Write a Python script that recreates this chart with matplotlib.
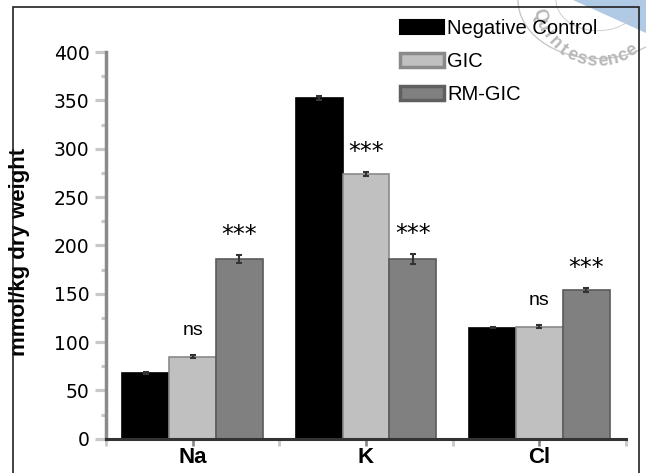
import matplotlib
matplotlib.use('Agg')
import matplotlib.pyplot as plt
import numpy as np
from matplotlib.patches import Rectangle, Polygon, Patch, Circle

# ---------------- data ----------------
ions = ['Na', 'K', 'Cl']
series = ['Negative Control', 'GIC', 'RM-GIC']
neg_control = [68, 352, 115]
gic = [85, 274, 116]
rm_gic = [186, 186, 154]
neg_control_err = [1, 2, 1]
gic_err = [2, 2, 2]
rm_gic_err = [4, 5, 2]
gic_sig = ['ns', '***', 'ns']
rm_gic_sig = ['***', '***', '***']
yticks = [0, 50, 100, 150, 200, 250, 300, 350, 400]

# ---------------- style ----------------
W, H = 646, 473
plt.rcParams['font.family'] = ['Liberation Sans', 'DejaVu Sans']
fig = plt.figure(figsize=(W / 100, H / 100), dpi=100)
fig.patch.set_facecolor('white')

x0, x1, y0, y1 = 106, 626, 438.7, 52
ax = fig.add_axes([x0 / W, 1 - y0 / H, (x1 - x0) / W, (y0 - y1) / H])

fills = ['#000000', '#c0c0c0', '#808080']
edges = ['#000000', '#8a8a8a', '#5a5a5a']
values = [neg_control, gic, rm_gic]
errs = [neg_control_err, gic_err, rm_gic_err]
bw = 0.27
x = np.arange(len(ions))
for i, (vals, err) in enumerate(zip(values, errs)):
    ax.bar(x + (i - 1) * bw, vals, width=bw, color=fills[i], edgecolor=edges[i],
           linewidth=1.2, yerr=err, capsize=2,
           error_kw=dict(ecolor='#333333', elinewidth=1.5, capthick=1.5), zorder=3)

def annotate(vals, err, sigs, idx):
    for xi, v, e, s in zip(x, vals, err, sigs):
        if s == 'ns':
            ax.annotate(s, (xi + (idx - 1) * bw, v + e), xytext=(0, 11),
                        textcoords='offset points', ha='center', va='bottom',
                        fontsize=14, family=['Liberation Sans'])
        else:
            ax.annotate(s, (xi + (idx - 1) * bw, v + e), xytext=(0, 6),
                        textcoords='offset points', ha='center', va='bottom',
                        fontsize=17, family=['DejaVu Sans'])

annotate(gic, gic_err, gic_sig, 1)
annotate(rm_gic, rm_gic_err, rm_gic_sig, 2)

ax.set_xlim(-0.5, 2.5)
ax.set_ylim(0, 400)
ax.set_yticks(yticks)
ax.set_yticklabels([str(v) for v in yticks], family=['DejaVu Sans'], fontsize=13.5)
ax.set_yticks(np.arange(25, 400, 50), minor=True)
ax.set_xticks(x)
ax.set_xticklabels(ions, fontweight='bold', fontsize=16)
ax.set_xticks([-0.5, 0.5, 1.5, 2.5], minor=True)
ax.tick_params(axis='y', which='major', length=8, width=2.3, color='#c8c8c8', pad=4)
ax.tick_params(axis='y', which='minor', length=3.5, width=2.3, color='#c8c8c8')
ax.tick_params(axis='x', which='major', length=5, width=2, color='#8c8c8c', pad=1)
ax.tick_params(axis='x', which='minor', length=5, width=2, color='#c8c8c8')

for s in ['top', 'right']:
    ax.spines[s].set_visible(False)
ax.spines['left'].set_color('#8a8a8a')
ax.spines['left'].set_linewidth(2.5)
ax.spines['bottom'].set_color('#333333')
ax.spines['bottom'].set_linewidth(2.2)
ax.spines['bottom'].set_zorder(4)

ax.set_ylabel('mmol/kg dry weight', fontweight='bold', fontsize=16)
ax.yaxis.set_label_coords((30 - x0) / (x1 - x0), (y0 - 252) / (y0 - y1))

# legend
handles = [Patch(facecolor=fills[0], edgecolor='#000000', linewidth=1.5),
           Patch(facecolor=fills[1], edgecolor='#8a8a8a', linewidth=2.5),
           Patch(facecolor=fills[2], edgecolor='#606060', linewidth=2.5)]
fig.legend(handles, series, loc='upper left', bbox_to_anchor=(400 / W, 1 - 19.5 / H),
           frameon=False, fontsize=14.5, handlelength=2.2, handleheight=0.7,
           handletextpad=0.15, labelspacing=0.68, borderpad=0, borderaxespad=0)

# outer frame
fig.patches.append(Rectangle((13 / W, -0.1), (639 - 13) / W, 1.1 - 7 / H,
                             transform=fig.transFigure, fill=False,
                             edgecolor='#222222', linewidth=1.2, zorder=10))

# watermark stamp (decoration)
def fp(px, py):
    return (px / W, 1 - py / H)

band = Polygon([fp(573, 0), fp(646, 0), fp(646, 33)], closed=True,
               transform=fig.transFigure, facecolor='#a8c3e2', edgecolor='none',
               alpha=0.9, zorder=0)
fig.patches.append(band)
cx, cy = 598, 0
for r, lw in [(42, 0.6), (80, 1.0)]:
    fig.patches.append(Circle(fp(cx, cy), r / W, transform=fig.transFigure, fill=False,
                              edgecolor='#c8c8c8', linewidth=lw, zorder=0))
word = 'Quintessence'
thetas = np.linspace(165, 56, len(word))
for ch, th in zip(word, thetas):
    t = np.deg2rad(th)
    px, py = cx + 61 * np.cos(t), cy + 61 * np.sin(t)
    fig.text(px / W, 1 - py / H, ch, rotation=-th + 90, rotation_mode='anchor',
             ha='center', va='center', fontsize=13, fontweight='bold',
             color='#b8b8b8', zorder=0)

fig.savefig('out.png', dpi=100)
